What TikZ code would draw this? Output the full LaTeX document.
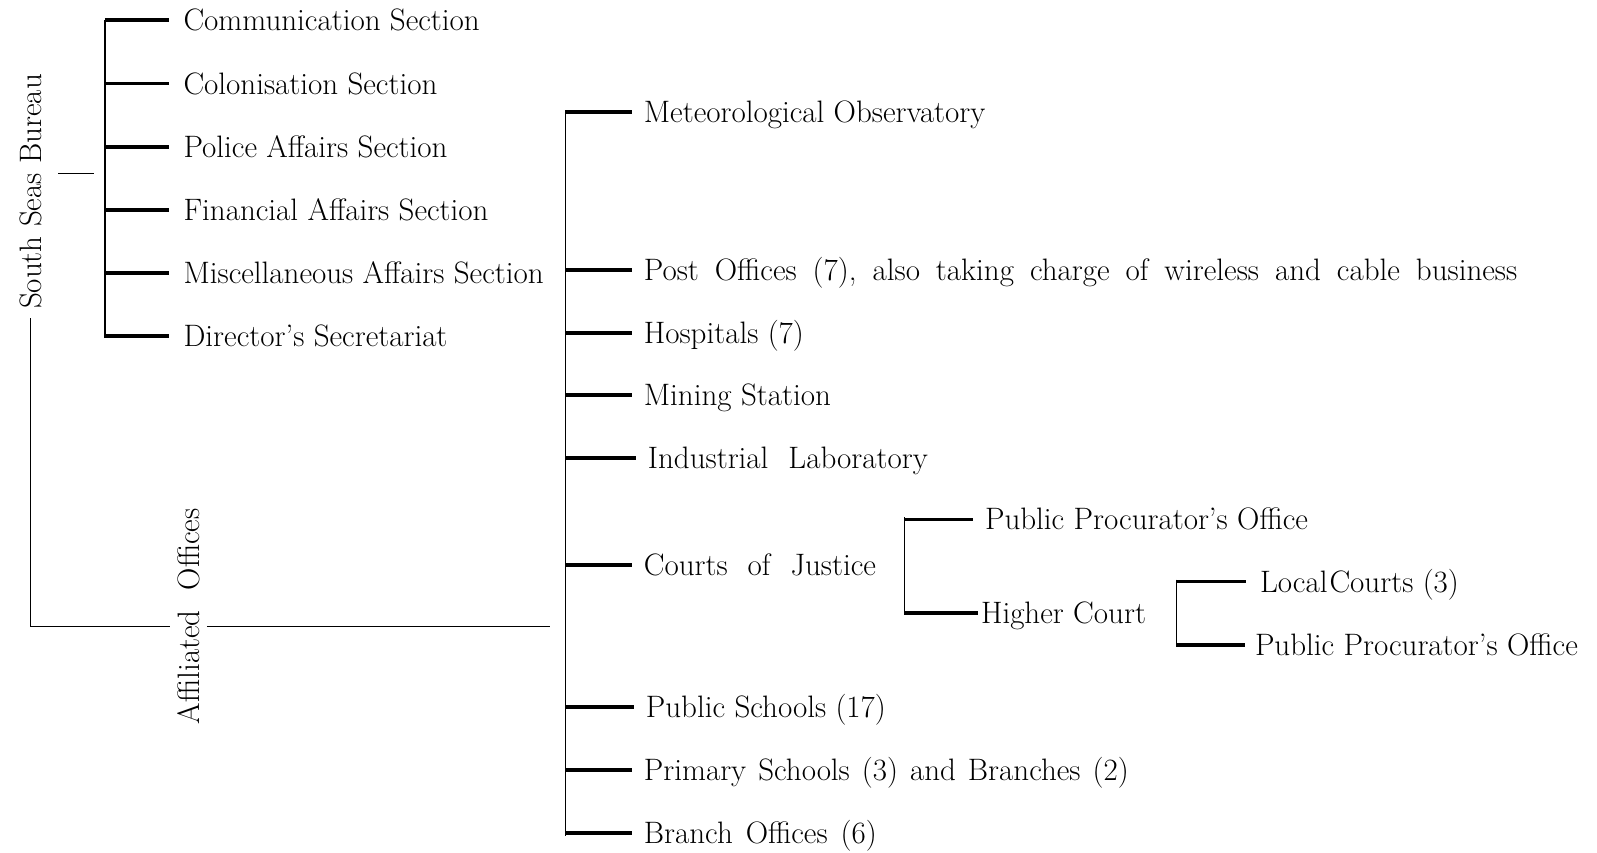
\documentclass[tikz,border=0pt]{standalone}
\begin{document}
\begin{tikzpicture}[x=1.0185pt,y=-1.0185pt,
  lbl/.style={anchor=west, inner sep=0pt, text height=21pt, text depth=0pt,
    font=\fontsize{31}{34}\selectfont},
  ws/.style={execute at begin node={\spaceskip=#1pt plus 1pt minus 1pt\relax}},
  vlbl/.style={rotate=90, inner sep=7pt, font=\fontsize{31}{34}\selectfont},
  tick/.style={line width=3.8pt},
  bar/.style={line width=1.2pt},
  thin/.style={line width=1.2pt}]
\useasboundingbox (0,0) rectangle (1568,837);

% ---- left labels
\node[vlbl] (sb) at (30,188) {South Seas Bureau};
\node[vlbl, ws=20] (aff) at (185,605) {Affiliated Offices};

% ---- top bracket
\coordinate (tb) at (103,20);
\node[lbl] (c1) at (180,20)  {Communication Section};
\node[lbl] (c2) at (180,82)  {Colonisation Section};
\node[lbl] (c3) at (180,144) {Police Affairs Section};
\node[lbl] (c4) at (180,206) {Financial Affairs Section};
\node[lbl] (c5) at (180,268) {Miscellaneous Affairs Section};
\node[lbl] (c6) at (180,330) {Director's Secretariat};
\draw[bar] (tb |- c1) -- ([yshift=-2pt]tb |- c6);
\foreach \n in {c1,c2,c3,c4,c5,c6}
  \draw[tick] (tb |- \n) -- ([xshift=-14pt]\n.west);

% ---- bureau connectors
\coordinate (sbt1) at (57,170);
\coordinate (sbt2) at (92,170);
\draw[thin] (sbt1) -- (sbt2);
\coordinate (corner) at (30,615);
\coordinate (hzend) at (540,615);
\draw[thin] ([yshift=-2pt]sb.west) -- (corner) -- (corner -| aff.north);
\draw[thin] (corner -| aff.south) -- (hzend);

% ---- big bracket
\coordinate (bb) at (555,110);
\node[lbl] (a1) at (632,110) {Meteorological Observatory};
\node[lbl, ws=16] (a2) at (632,265) {Post Offices (7), also taking charge of wireless and cable business};
\node[lbl] (a3) at (632,327) {Hospitals (7)};
\node[lbl] (a4) at (632,388) {Mining Station};
\node[lbl, ws=20] (a5) at (636,450) {Industrial Laboratory};
\node[lbl, ws=20] (a6) at (632,555) {Courts of Justice};
\node[lbl] (a7) at (634,694) {Public Schools (17)};
\node[lbl, ws=12] (a8) at (632,756) {Primary Schools (3) and Branches (2)};
\node[lbl, ws=13] (a9) at (632,818) {Branch Offices (6)};
\draw[bar] ([yshift=2pt]bb |- a1) -- ([yshift=-3pt]bb |- a9);
\foreach \n in {a1,a2,a3,a4,a5,a6,a7,a8,a9}
  \draw[tick] (bb |- \n) -- ([xshift=-12pt]\n.west);

% ---- courts bracket
\coordinate (cb) at (888,510);
\node[lbl] (p1) at (967,510) {Public Procurator's Office};
\node[lbl] (h1) at (963,602) {Higher Court};
\draw[bar] ([yshift=2pt]cb |- p1) -- ([yshift=-2pt]cb |- h1);
\draw[tick] (cb |- p1) -- ([xshift=-12pt]p1.west);
\draw[tick] (cb |- h1) -- ([xshift=-3pt]h1.west);

% ---- higher court bracket
\coordinate (hb) at (1155,571);
\node[lbl] (l1) at (1237,571) {Local\kern2pt Courts (3)};
\node[lbl] (p2) at (1232,633) {Public Procurator's Office};
\draw[bar] ([yshift=2pt]hb |- l1) -- ([yshift=-2pt]hb |- p2);
\draw[tick] (hb |- l1) -- ([xshift=-14pt]l1.west);
\draw[tick] (hb |- p2) -- ([xshift=-10pt]p2.west);
\end{tikzpicture}
\end{document}
